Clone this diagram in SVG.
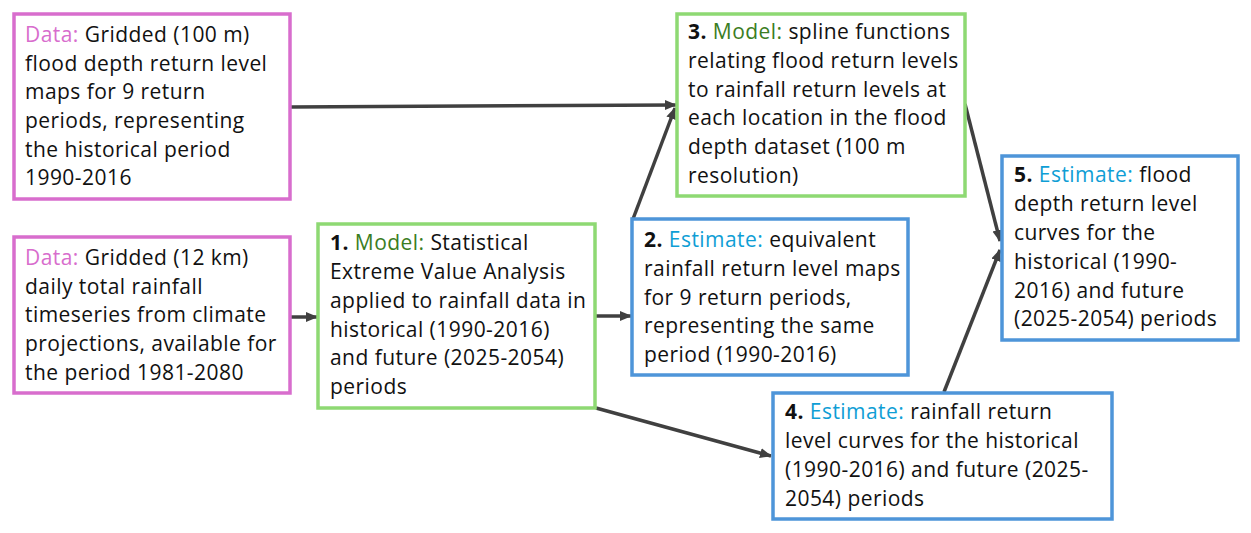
<svg xmlns="http://www.w3.org/2000/svg" width="1251" height="533" viewBox="0 0 1251 533">
<defs>
<style>
.box{fill:#fff;stroke-width:3.5}
.data{stroke:#D86DCD}
.model{stroke:#8ED973}
.est{stroke:#4E95D9}
text{font-family:"Open Sans","Noto Sans",sans-serif;font-size:21px;letter-spacing:0.45px;fill:#111}
.kd{fill:#D86DCD}
.km{fill:#3B7D23}
.ke{fill:#0F9ED5}
.b{font-weight:bold}
.c{stroke:#404040;stroke-width:3.5;fill:none;marker-end:url(#ah)}
</style>
<marker id="ah" markerUnits="userSpaceOnUse" markerWidth="12" markerHeight="12" viewBox="0 0 12 12" refX="11" refY="6" orient="auto">
<path d="M0,1 L12,6 L0,11 Z" fill="#404040"/>
</marker>
</defs>
<rect width="1251" height="533" fill="#fff"/>
<g id="connectors">
<path class="c" d="M290,107 L676,105"/>
<path class="c" d="M290,317 L317,317"/>
<path class="c" d="M596,316 L631,316"/>
<path class="c" d="M633,219 L675,108"/>
<path class="c" d="M596,408 L771,456"/>
<path class="c" d="M965,104 L1000,241"/>
<path class="c" d="M944,392 L1000,250"/>
</g>
<g id="dataFlood">
<rect class="box data" x="14" y="14" width="276" height="185"/>
<text x="25" y="42"><tspan class="kd">Data:</tspan> Gridded (100 m)</text>
<text x="25" y="71">flood depth return level</text>
<text x="25" y="99">maps for 9 return</text>
<text x="25" y="128">periods, representing</text>
<text x="25" y="157">the historical period</text>
<text x="25" y="185">1990-2016</text>
</g>
<g id="dataRain">
<rect class="box data" x="14" y="237" width="276" height="156"/>
<text x="25" y="265"><tspan class="kd">Data:</tspan> Gridded (12 km)</text>
<text x="25" y="294">daily total rainfall</text>
<text x="25" y="322">timeseries from climate</text>
<text x="25" y="351">projections, available for</text>
<text x="25" y="380">the period 1981-2080</text>
</g>
<g id="model1">
<rect class="box model" x="318" y="224" width="277" height="184"/>
<text x="330" y="250"><tspan class="b">1.</tspan> <tspan class="km">Model:</tspan> Statistical</text>
<text x="330" y="279">Extreme Value Analysis</text>
<text x="330" y="308">applied to rainfall data in</text>
<text x="330" y="337">historical (1990-2016)</text>
<text x="330" y="365">and future (2025-2054)</text>
<text x="330" y="394">periods</text>
</g>
<g id="model3">
<rect class="box model" x="677" y="14" width="288" height="182"/>
<text x="688" y="39"><tspan class="b">3.</tspan> <tspan class="km">Model:</tspan> spline functions</text>
<text x="688" y="68">relating flood return levels</text>
<text x="688" y="97">to rainfall return levels at</text>
<text x="688" y="125">each location in the flood</text>
<text x="688" y="154">depth dataset (100 m</text>
<text x="688" y="183">resolution)</text>
</g>
<g id="estimate2">
<rect class="box est" x="632" y="219" width="276" height="156"/>
<text x="644" y="247"><tspan class="b">2.</tspan> <tspan class="ke">Estimate:</tspan> equivalent</text>
<text x="644" y="276">rainfall return level maps</text>
<text x="644" y="305">for 9 return periods,</text>
<text x="644" y="333">representing the same</text>
<text x="644" y="362">period (1990-2016)</text>
</g>
<g id="estimate5">
<rect class="box est" x="1002" y="156" width="236" height="184"/>
<text x="1014" y="182"><tspan class="b">5.</tspan> <tspan class="ke">Estimate:</tspan> flood</text>
<text x="1014" y="211">depth return level</text>
<text x="1014" y="240">curves for the</text>
<text x="1014" y="269">historical (1990-</text>
<text x="1014" y="298">2016) and future</text>
<text x="1014" y="326">(2025-2054) periods</text>
</g>
<g id="estimate4">
<rect class="box est" x="773" y="393" width="339" height="126"/>
<text x="785" y="419"><tspan class="b">4.</tspan> <tspan class="ke">Estimate:</tspan> rainfall return</text>
<text x="785" y="448">level curves for the historical</text>
<text x="785" y="477">(1990-2016) and future (2025-</text>
<text x="785" y="506">2054) periods</text>
</g>
</svg>
